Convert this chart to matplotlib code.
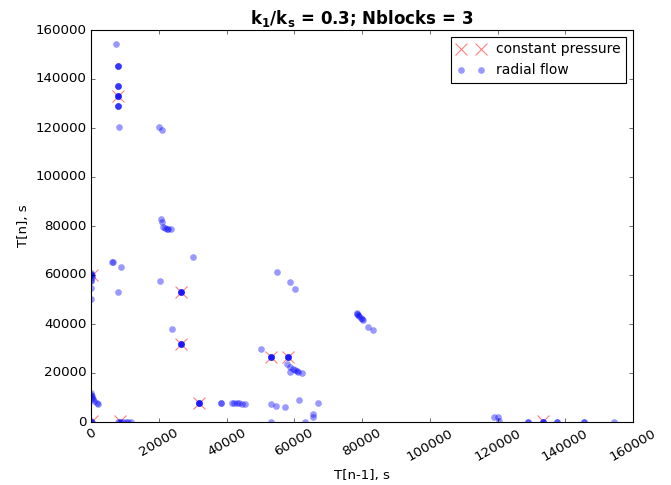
import matplotlib
matplotlib.use("Agg")
import matplotlib.pyplot as plt

plt.style.use("classic")
plt.rcParams["mathtext.fontset"] = "dejavusans"

# Return-map of successive intervals T[n-1] -> T[n]
cp_prev = [7970, 26480, 26660, 31880, 53140, 58240, 300, 300, 8560, 133300]
cp_next = [133200, 52900, 31700, 7900, 26400, 26400, 60000, 500, 500, 300]

rf_prev = [
    7290, 7880, 7880, 7880, 7970, 7970, 7970, 7880, 7880, 7880, 8270,
    7970, 7970, 7970, 7970,
    20070, 20960,
    20660, 20960, 21300, 21800, 22300, 22800, 23500,
    30020, 6290, 6640, 8940, 20370, 7970,
    26480, 26480, 26480, 26480, 26660, 26660, 26660, 26660,
    31880, 31880, 31880, 31880, 53140, 53140, 53140, 53140,
    58240, 58240, 58240, 58240,
    24000,
    0, 0, 300, 0, 0, 0, 0, 0, 300,
    0, 200, 500, 900, 1900, 2200, 0, 300,
    0, 300, 0, 8000, 8700, 9400, 10200, 11000, 11800, 8600,
    38260, 38500,
    41500, 42300, 43000, 43800, 44600, 45400,
    53050, 54610, 57360, 61400, 67100,
    53140, 63260, 65450, 65400,
    54820, 58740, 60220,
    50100,
    57770, 58740, 59720, 60220, 60800, 61200, 58740, 62200,
    78400, 78800, 79200, 79600, 80000, 80400, 78600,
    81900, 83100,
    118970, 120060, 120440,
    128900, 128900, 137500, 137500, 145600, 145600, 154500,
    133300, 133300, 133300,
]
rf_next = [
    154400, 145400, 145400, 145400, 137300, 137300, 137300, 128900, 128900, 128900, 120300,
    133200, 133200, 133200, 133200,
    120300, 119300,
    82700, 81500, 79500, 79000, 78700, 78600, 78700,
    67300, 65200, 65200, 63100, 57500, 52900,
    52900, 52900, 52900, 52900, 31700, 31700, 31700, 31700,
    7900, 7900, 7900, 7900, 26400, 26400, 26400, 26400,
    26400, 26400, 26400, 26400,
    37950,
    61000, 60000, 59000, 58000, 57500, 54800, 50100, 60500, 60000,
    12000, 10500, 9500, 8500, 7600, 7500, 11000, 10000,
    0, 0, 500, 0, 0, 0, 0, 0, 0, 0,
    7700, 7700,
    7700, 7700, 7600, 7600, 7500, 7500,
    7350, 6400, 6000, 8850, 7900,
    0, 0, 1900, 3100,
    61200, 57100, 54400,
    29900,
    23700, 22600, 21600, 21300, 21000, 20500, 20300, 20100,
    44400, 43800, 43200, 42600, 42000, 41600, 44000,
    38600, 37700,
    1900, 1900, 500,
    0, 0, 0, 0, 0, 0, 0,
    0, 0, 0,
]

fig = plt.figure(figsize=(671 / 80, 485 / 80), dpi=80, facecolor="white")
ax = fig.add_axes([91 / 671, 1 - 422 / 485, (633 - 91) / 671, (422 - 30) / 485])

ax.plot(cp_prev, cp_next, "x", color="red", alpha=0.5, markersize=10,
        markeredgewidth=1.0, label="constant pressure")
ax.plot(rf_prev, rf_next, "o", color="blue", alpha=0.4, markersize=6,
        markeredgecolor="none", label="radial flow")

ax.set_xlim(0, 160000)
ax.set_ylim(0, 160000)
ax.set_xticks(range(0, 160001, 20000))
ax.set_yticks(range(0, 160001, 20000))
for lbl in ax.get_xticklabels():
    lbl.set_rotation(30)
ax.tick_params(labelsize=12)

ax.set_xlabel("T[n-1], s", fontsize=12)
ax.set_ylabel("T[n], s", fontsize=12)
ax.set_title(r"$\mathbf{k_1/k_s}$ = 0.3; Nblocks = 3", fontsize=15,
             fontweight="bold")
ax.legend(loc="upper right", numpoints=2, fontsize=12.5, borderaxespad=0.5)

fig.savefig("out.png", dpi=80, facecolor="white")
